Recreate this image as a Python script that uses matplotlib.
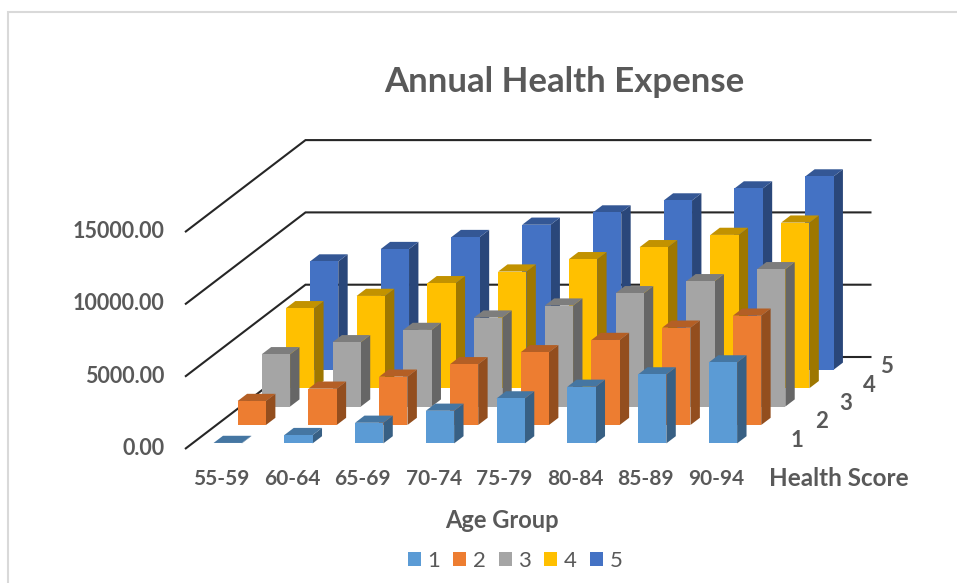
"""Annual Health Expense: Excel-style 3D column chart drawn with an oblique projection."""

import matplotlib
matplotlib.use("Agg")
import matplotlib.pyplot as plt
from matplotlib.colors import to_rgb
from matplotlib.patches import Patch, Polygon, Rectangle

AGE_GROUPS = ["55-59", "60-64", "65-69", "70-74", "75-79", "80-84", "85-89", "90-94"]
HEALTH_SCORES = ["1", "2", "3", "4", "5"]
Y_TICKS = [0, 5000, 10000, 15000]

SCORE_1 = [30, 575, 1425, 2255, 3110, 3915, 4770, 5600]
SCORE_2 = [1660, 2510, 3340, 4200, 5030, 5880, 6730, 7560]
SCORE_3 = [3620, 4450, 5300, 6155, 6985, 7840, 8670, 9500]
SCORE_4 = [5530, 6380, 7260, 8065, 8920, 9750, 10600, 11450]
SCORE_5 = [7490, 8350, 9180, 10030, 10880, 11710, 12540, 13370]
SERIES = [SCORE_1, SCORE_2, SCORE_3, SCORE_4, SCORE_5]
COLORS = ["#5B9BD5", "#ED7D31", "#A5A5A5", "#FFC000", "#4472C4"]

TEXT = "#595959"
ORIGIN_X, ORIGIN_Y = 185.0, 449.0   # front-left floor corner, px
CAT_W = 70.75                       # px per age group
DEPTH_X, DEPTH_Y = 24.1, 18.4       # px per health score
PX_PER_UNIT = 72.3 / 5000
BAR_W = 0.40                        # fraction of a category
BAR_D = 0.39                        # fraction of a depth slot
DEPTH_LABEL_DX = [34, 34, 34, 34, 27]


def project(c, d, v):
    """Category, depth and value to picture pixels."""
    return (ORIGIN_X + CAT_W * c + DEPTH_X * d,
            ORIGIN_Y - DEPTH_Y * d - PX_PER_UNIT * v)


def shade(color, f):
    return tuple(f * ch for ch in to_rgb(color))


def draw_bar(ax, c, d, v, color):
    c0, c1 = c + 0.5 - BAR_W / 2, c + 0.5 + BAR_W / 2
    d0, d1 = d + 0.5 - BAR_D / 2, d + 0.5 + BAR_D / 2
    front = [project(c0, d0, 0), project(c1, d0, 0), project(c1, d0, v), project(c0, d0, v)]
    side = [project(c1, d0, 0), project(c1, d1, 0), project(c1, d1, v), project(c1, d0, v)]
    top = [project(c0, d0, v), project(c1, d0, v), project(c1, d1, v), project(c0, d1, v)]
    ax.add_patch(Polygon(side, facecolor=shade(color, 0.62), edgecolor="none", zorder=2))
    ax.add_patch(Polygon(top, facecolor=shade(color, 0.76), edgecolor="none", zorder=2))
    ax.add_patch(Polygon(front, facecolor=color, edgecolor="none", zorder=2))


plt.rcParams["font.family"] = ["Lato", "DejaVu Sans"]
fig = plt.figure(figsize=(9.57, 5.83), dpi=100)
ax = fig.add_axes([0, 0, 1, 1])
ax.set_xlim(0, 957)
ax.set_ylim(583, 0)
ax.axis("off")

ax.add_patch(Rectangle((8, 12), 1000, 1000, facecolor="white", edgecolor="#D9D9D9",
                       lw=1.5, zorder=0))

# wall gridlines sit behind every bar
n_cat, n_depth = len(AGE_GROUPS), len(HEALTH_SCORES)
for tick in Y_TICKS:
    pts = [project(0, 0, tick), project(0, n_depth, tick), project(n_cat, n_depth, tick)]
    ax.plot([p[0] for p in pts], [p[1] for p in pts], color="#262626", lw=1.5,
            solid_joinstyle="miter", solid_capstyle="butt", zorder=1)
    x, y = project(0, 0, tick)
    ax.text(x - 20.5, y - 0.5, f"{tick:.2f}", ha="right", va="center",
            fontsize=15.5, fontweight="bold", color=TEXT)

# back rows first so the front rows cover them
for d in range(n_depth - 1, -1, -1):
    for c in range(n_cat):
        draw_bar(ax, c, d, SERIES[d][c], COLORS[d])

for c, label in enumerate(AGE_GROUPS):
    x, y = project(c + 0.5, 0, 0)
    ax.text(x + 1, 479, label, ha="center", va="center",
            fontsize=15, fontweight="bold", color=TEXT)

# depth axis labels run up the right-hand floor edge
for d, label in enumerate(HEALTH_SCORES):
    x, y = project(n_cat, d + 0.5, 0)
    ax.text(x + DEPTH_LABEL_DX[d], y + 0.5, label, ha="center", va="center",
            fontsize=16, fontweight="bold", color=TEXT)

ax.text(839, 479, "Health Score", ha="center", va="center",
        fontsize=17.5, fontweight="bold", color=TEXT)
ax.text(502, 520, "Age Group", ha="center", va="center",
        fontsize=17, fontweight="bold", color=TEXT)
ax.text(564, 82, "Annual Health Expense", ha="center", va="center",
        fontsize=25, fontweight="bold", color=TEXT)

handles = [Patch(facecolor=col, edgecolor="none") for col in COLORS]
ax.legend(handles, HEALTH_SCORES, ncol=5, loc="center", bbox_to_anchor=(515, 561),
          bbox_transform=ax.transData, frameon=False, handlelength=0.59, handleheight=0.59,
          handletextpad=0.3, columnspacing=0.575,
          prop={"size": 16, "family": "Lato"}, labelcolor=TEXT)

fig.savefig("out.png", dpi=100)
